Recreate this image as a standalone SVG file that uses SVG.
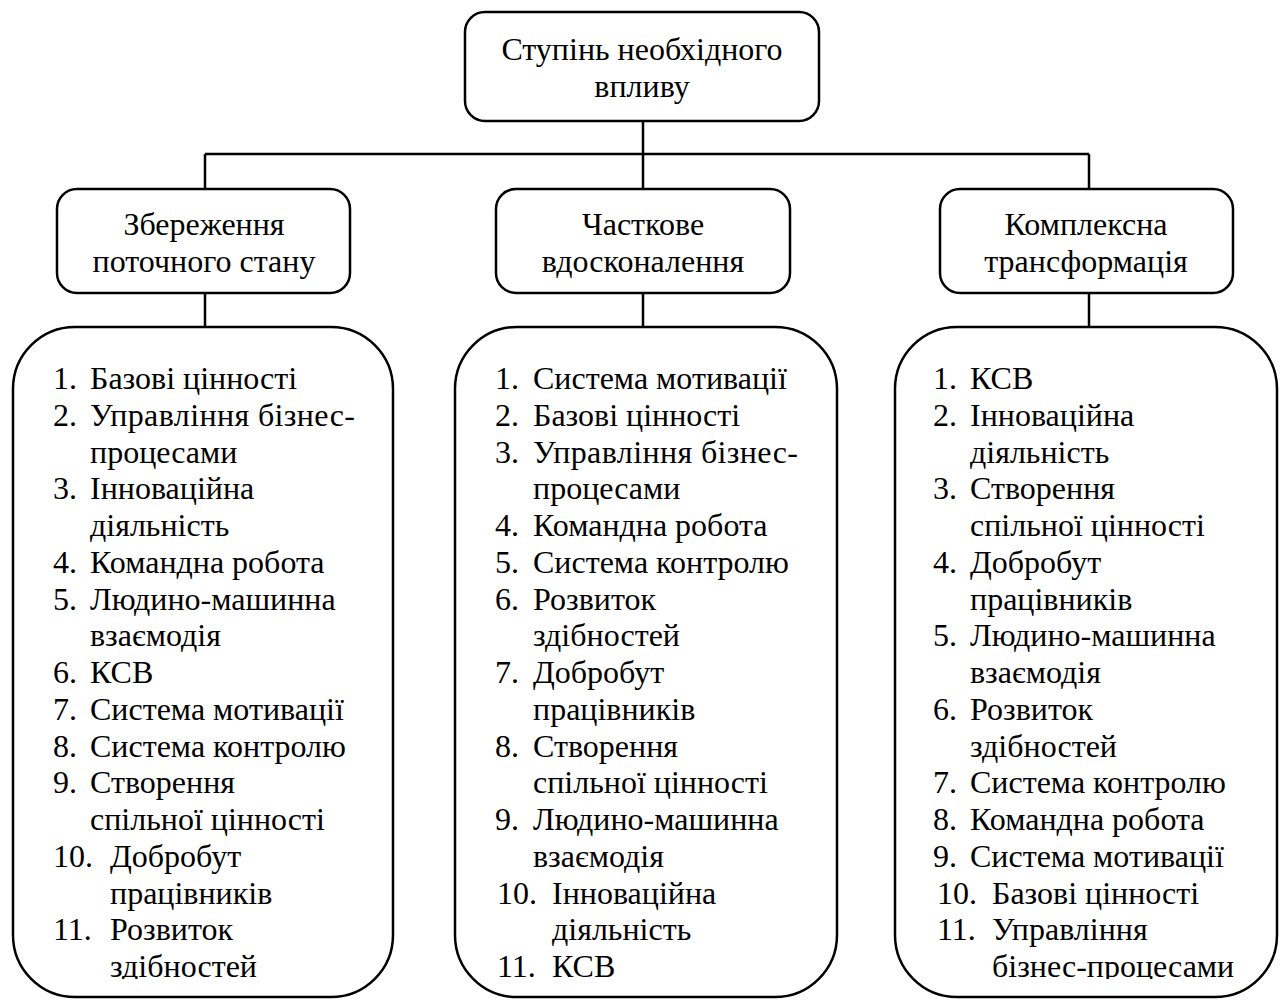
<svg xmlns="http://www.w3.org/2000/svg" width="1282" height="1000" viewBox="0 0 1282 1000">
  <style>
    .box { fill: #ffffff; stroke: #000000; stroke-width: 2.5; }
    .wire { fill: none; stroke: #000000; stroke-width: 2.5; }
    text { font-family: "Liberation Serif", "Times New Roman", serif; font-size: 32px; fill: #000000; }
    .c { text-anchor: middle; }
  </style>
  <defs>
    <!-- list text is cut at the lower edge of its text frame -->
    <clipPath id="listClip">
      <rect x="0" y="0" width="1282" height="979"/>
    </clipPath>
  </defs>
  <rect width="1282" height="1000" fill="#ffffff"/>

  <!-- connectors -->
  <g id="connectors">
    <path class="wire" d="M643 121 V154"/>
    <path class="wire" d="M205 154 H1089"/>
    <path class="wire" d="M205 154 V189"/>
    <path class="wire" d="M643 154 V189"/>
    <path class="wire" d="M1089 154 V189"/>
    <path class="wire" d="M205 293 V327"/>
    <path class="wire" d="M643 293 V327"/>
    <path class="wire" d="M1089 293 V327"/>
  </g>

  <!-- root -->
  <g id="root">
    <rect class="box" x="465" y="12" width="354" height="109" rx="20"/>
    <text class="c" x="642" y="60">Ступінь необхідного</text>
    <text class="c" x="642" y="97">впливу</text>
  </g>

  <!-- level headers -->
  <g id="h-preserve">
    <rect class="box" x="57" y="189" width="293" height="104" rx="20"/>
    <text class="c" x="204" y="235">Збереження</text>
    <text class="c" x="204" y="272">поточного стану</text>
  </g>
  <g id="h-partial">
    <rect class="box" x="496" y="189" width="294" height="104" rx="20"/>
    <text class="c" x="643" y="235">Часткове</text>
    <text class="c" x="643" y="272">вдосконалення</text>
  </g>
  <g id="h-complex">
    <rect class="box" x="940" y="189" width="293" height="104" rx="20"/>
    <text class="c" x="1086" y="235">Комплексна</text>
    <text class="c" x="1086" y="272">трансформація</text>
  </g>

  <!-- priority lists -->
  <g id="list-preserve">
    <rect class="box" x="13" y="327" width="380" height="670" rx="62"/>
    <g clip-path="url(#listClip)">
      <text x="53" y="389">1.</text><text x="90" y="389">Базові цінності</text>
      <text x="53" y="426">2.</text><text x="90" y="426" textLength="265" lengthAdjust="spacing">Управління бізнес-</text>
      <text x="90" y="462.5">процесами</text>
      <text x="53" y="499">3.</text><text x="90" y="499">Інноваційна</text>
      <text x="90" y="536">діяльність</text>
      <text x="53" y="573">4.</text><text x="90" y="573">Командна робота</text>
      <text x="53" y="609.5">5.</text><text x="90" y="609.5">Людино-машинна</text>
      <text x="90" y="646">взаємодія</text>
      <text x="53" y="683">6.</text><text x="90" y="683">КСВ</text>
      <text x="53" y="720">7.</text><text x="90" y="720">Система мотивації</text>
      <text x="53" y="756.5">8.</text><text x="90" y="756.5">Система контролю</text>
      <text x="53" y="793">9.</text><text x="90" y="793">Створення</text>
      <text x="90" y="830">спільної цінності</text>
      <text x="53" y="867">10.</text><text x="110" y="867">Добробут</text>
      <text x="110" y="903.5">працівників</text>
      <text x="53" y="940">11.</text><text x="110" y="940">Розвиток</text>
      <text x="110" y="977">здібностей</text>
    </g>
  </g>

  <g id="list-partial">
    <rect class="box" x="455" y="327" width="382" height="670" rx="62"/>
    <g clip-path="url(#listClip)">
      <text x="495" y="389">1.</text><text x="533" y="389">Система мотивації</text>
      <text x="495" y="426">2.</text><text x="533" y="426">Базові цінності</text>
      <text x="495" y="462.5">3.</text><text x="533" y="462.5" textLength="265" lengthAdjust="spacing">Управління бізнес-</text>
      <text x="533" y="499">процесами</text>
      <text x="495" y="536">4.</text><text x="533" y="536">Командна робота</text>
      <text x="495" y="573">5.</text><text x="533" y="573">Система контролю</text>
      <text x="495" y="609.5">6.</text><text x="533" y="609.5">Розвиток</text>
      <text x="533" y="646">здібностей</text>
      <text x="495" y="683">7.</text><text x="533" y="683">Добробут</text>
      <text x="533" y="720">працівників</text>
      <text x="495" y="756.5">8.</text><text x="533" y="756.5">Створення</text>
      <text x="533" y="793">спільної цінності</text>
      <text x="495" y="830">9.</text><text x="533" y="830">Людино-машинна</text>
      <text x="533" y="867">взаємодія</text>
      <text x="497" y="903.5">10.</text><text x="552" y="903.5">Інноваційна</text>
      <text x="552" y="940">діяльність</text>
      <text x="497" y="977">11.</text><text x="552" y="977">КСВ</text>
    </g>
  </g>

  <g id="list-complex">
    <rect class="box" x="895" y="327" width="382" height="670" rx="62"/>
    <g clip-path="url(#listClip)">
      <text x="933" y="389">1.</text><text x="970" y="389">КСВ</text>
      <text x="933" y="426">2.</text><text x="970" y="426">Інноваційна</text>
      <text x="970" y="462.5">діяльність</text>
      <text x="933" y="499">3.</text><text x="970" y="499">Створення</text>
      <text x="970" y="536">спільної цінності</text>
      <text x="933" y="573">4.</text><text x="970" y="573">Добробут</text>
      <text x="970" y="609.5">працівників</text>
      <text x="933" y="646">5.</text><text x="970" y="646">Людино-машинна</text>
      <text x="970" y="683">взаємодія</text>
      <text x="933" y="720">6.</text><text x="970" y="720">Розвиток</text>
      <text x="970" y="756.5">здібностей</text>
      <text x="933" y="793">7.</text><text x="970" y="793">Система контролю</text>
      <text x="933" y="830">8.</text><text x="970" y="830">Командна робота</text>
      <text x="933" y="867">9.</text><text x="970" y="867">Система мотивації</text>
      <text x="937" y="903.5">10.</text><text x="992" y="903.5">Базові цінності</text>
      <text x="937" y="940">11.</text><text x="992" y="940">Управління</text>
      <text x="992" y="977">бізнес-процесами</text>
    </g>
  </g>
</svg>
